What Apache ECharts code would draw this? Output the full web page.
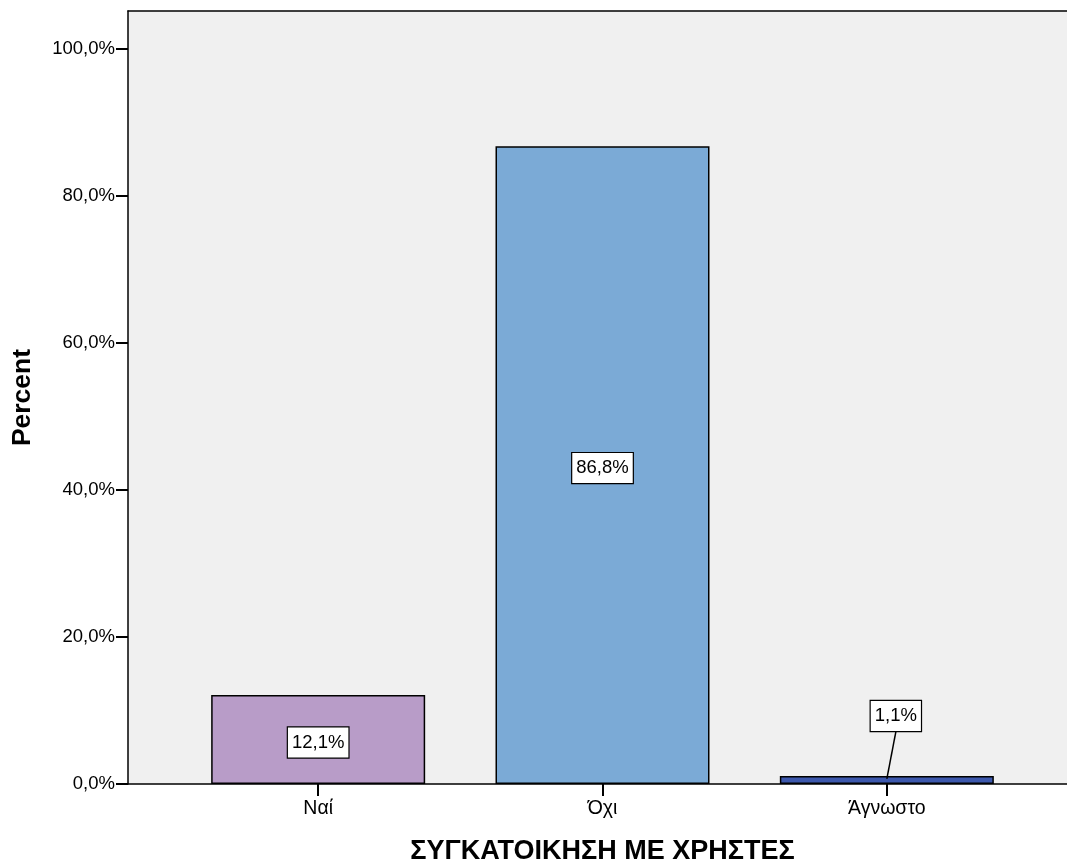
<!DOCTYPE html>
<html><head><meta charset="utf-8">
<script src="https://cdn.jsdelivr.net/npm/echarts@6/dist/echarts.min.js"></script>
<style>html,body{margin:0;padding:0;background:#fff}#c{width:1067px;height:863px}</style>
</head><body><div id="c"></div>
<script>
const categories = ['Ναί', 'Όχι', 'Άγνωστο'];
const values = [12.1, 86.8, 1.1];
const colors = ['#b89cc8', '#7baad6', '#3d58ad'];
const yTicks = [0, 20, 40, 60, 80, 100];
const xTitle = 'ΣΥΓΚΑΤΟΙΚΗΣΗ ΜΕ ΧΡΗΣΤΕΣ';
const yTitle = 'Percent';

const FONT = 'Liberation Sans, Arial, sans-serif';
const YMAX = 105.2;
const fmt = v => v.toFixed(1).replace('.', ',') + '%';

const chart = echarts.init(document.getElementById('c'));
chart.setOption({
  animation: false,
  grid: [
    {left: 128, top: 11, right: 0, bottom: 79, show: true, backgroundColor: '#f0f0f0', borderWidth: 0, outerBoundsMode: 'none', containLabel: false},
    {left: 176, top: 11, right: 38, bottom: 79, outerBoundsMode: 'none', containLabel: false}
  ],
  xAxis: [
    {gridIndex: 0, type: 'value', min: 0, max: 1, position: 'bottom', axisLine: {show: true, lineStyle: {color: '#000', width: 1.5}}, axisTick: {show: false}, axisLabel: {show: false}, splitLine: {show: false}},
    {gridIndex: 0, type: 'value', min: 0, max: 1, position: 'top', axisLine: {show: true, lineStyle: {color: '#000', width: 1.5}}, axisTick: {show: false}, axisLabel: {show: false}, splitLine: {show: false}},
    {gridIndex: 1, type: 'category', data: categories, position: 'bottom',
      axisLine: {show: false},
      axisTick: {show: true, alignWithLabel: true, inside: false, length: 12, lineStyle: {color: '#000', width: 2}},
      axisLabel: {color: '#000', fontFamily: FONT, fontSize: 19.5, margin: 15},
      name: xTitle, nameLocation: 'middle', nameGap: 54,
      nameTextStyle: {color: '#000', fontFamily: FONT, fontSize: 27, fontWeight: 'bold'}
    }
  ],
  yAxis: [
    {gridIndex: 0, type: 'value', min: 0, max: YMAX, interval: 20,
      axisLine: {show: true, lineStyle: {color: '#000', width: 1.5}},
      axisTick: {show: true, inside: false, length: 12, lineStyle: {color: '#000', width: 2}, customValues: yTicks},
      axisLabel: {color: '#000', fontFamily: FONT, fontSize: 18.5, margin: 13, customValues: yTicks, formatter: v => fmt(v)},
      splitLine: {show: false},
      name: yTitle, nameLocation: 'middle', nameGap: 92, nameRotate: 90,
      nameTextStyle: {color: '#000', fontFamily: FONT, fontSize: 26.5, fontWeight: 'bold'}
    },
    {gridIndex: 1, type: 'value', min: 0, max: YMAX, show: false}
  ],
  series: [{
    type: 'bar', xAxisIndex: 2, yAxisIndex: 1, barWidth: 214,
    data: values.map((v, i) => ({
      value: v,
      itemStyle: {color: colors[i], borderColor: '#000', borderWidth: 1.5},
      label: i === 2 ? {position: 'inside', offset: [9, -64]} : {}
    })),
    label: {
      show: true, position: 'inside', offset: [0, 3],
      formatter: p => fmt(p.value),
      color: '#000', fontFamily: FONT, fontSize: 18.5,
      backgroundColor: '#fff', borderColor: '#000', borderWidth: 1.2,
      padding: [6, 4, 5, 4]
    }
  }]
});

// leader line for the small bar's label
function drawLeader() {
  const i = 2;
  const base = chart.convertToPixel({xAxisIndex: 2, yAxisIndex: 1}, [i, 0]);
  const top = chart.convertToPixel({xAxisIndex: 2, yAxisIndex: 1}, [i, values[i]]);
  const cy = (base[1] + top[1]) / 2;
  const labelBottom = cy - 64 + 16;
  chart.setOption({graphic: [{type: 'line', z: 100, shape: {x1: base[0] + 9, y1: labelBottom, x2: base[0], y2: top[1] + 3}, style: {stroke: '#000', lineWidth: 1.5}}]});
}
drawLeader();
</script></body></html>
